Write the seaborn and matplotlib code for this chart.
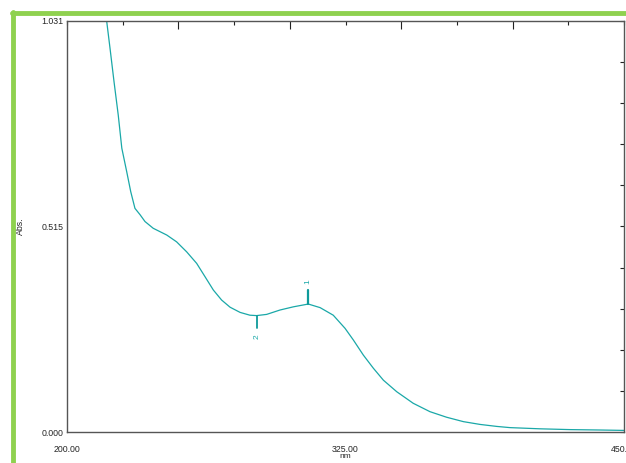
import matplotlib
matplotlib.use("Agg")
import matplotlib.pyplot as plt
from matplotlib.lines import Line2D
import seaborn as sns
import pandas as pd

# Spectrum data
wavelength_nm = [216.8, 217.8, 219.3, 221.1, 223.0, 224.6, 226.8, 228.6, 230.5, 232.8,
                 235.0, 238.7, 244.8, 249.2, 253.7, 258.2, 261.9, 265.7, 269.4, 273.2,
                 277.7, 282.1, 285.1, 289.6, 295.6, 301.6, 308.3, 313.6, 319.5, 324.8,
                 328.5, 333.0, 337.5, 342.0, 348.0, 355.4, 362.9, 370.4, 377.9, 385.4,
                 392.9, 398.8, 412.3, 425.8, 439.2, 450.0]
absorbance = [1.06, 1.031, 0.963, 0.879, 0.795, 0.712, 0.653, 0.603, 0.561, 0.545,
              0.528, 0.511, 0.494, 0.477, 0.452, 0.423, 0.390, 0.356, 0.331, 0.313,
              0.300, 0.293, 0.292, 0.295, 0.306, 0.314, 0.321, 0.312, 0.293, 0.260,
              0.231, 0.193, 0.160, 0.130, 0.101, 0.072, 0.051, 0.037, 0.026, 0.019,
              0.014, 0.011, 0.008, 0.006, 0.005, 0.004]

peak_labels = ["1", "2"]
peak_nm = [308.3, 285.1]
peak_abs = [0.321, 0.292]

x_ticks = [200, 225, 250, 275, 300, 325, 350, 375, 400, 425, 450]
x_labels = ["200.00", "", "", "", "", "325.00", "", "", "", "", "450.00"]
y_ticks = [i * 0.1031 for i in range(11)]
y_labels = ["0.000", "", "", "", "", "0.515", "", "", "", "", "1.031"]

sns.set_style("white")
plt.rcParams["font.family"] = ["Liberation Sans", "DejaVu Sans"]

fig = plt.figure(figsize=(6.26, 4.63), dpi=100)
ax = fig.add_axes([67 / 626, 1 - 432 / 463, 557 / 626, 411 / 463])

df = pd.DataFrame({"nm": wavelength_nm, "Abs.": absorbance})
teal = "#1aa8a8"
sns.lineplot(data=df, x="nm", y="Abs.", ax=ax, color=teal, linewidth=0.9, sort=False)

ax.set_xlim(200, 450)
ax.set_ylim(0, 1.031)

ax.set_xticks(x_ticks)
ax.set_xticklabels(x_labels, fontsize=6.3)
ax.set_yticks(y_ticks)
ax.set_yticklabels(y_labels, fontsize=6.3)
ax.tick_params(axis="both", direction="in", top=True, right=True, width=0.8,
               color="#222222", length=3)
ax.tick_params(axis="x", pad=9)
ax.tick_params(axis="y", pad=2.5)
for val, t in zip(x_ticks, ax.xaxis.get_major_ticks()):
    if val % 50 == 0 and val not in (200, 450):
        t.tick1line.set_markersize(6)
        t.tick2line.set_markersize(6)

for s in ax.spines.values():
    s.set_color("#555555")
    s.set_linewidth(1.0)

ax.set_xlabel("nm", fontsize=6, labelpad=0)
ax.set_ylabel("Abs.", fontsize=6.3, labelpad=12)

# peak markers
for lab, x, y in zip(peak_labels, peak_nm, peak_abs):
    if lab == "1":
        ax.plot([x, x], [y, y + 0.035], color="#0e9a9a", linewidth=1.6)
        ax.text(x, y + 0.055, lab, rotation=90, ha="center", va="center",
                fontsize=6, color=teal)
    else:
        ax.plot([x, x], [y, y - 0.031], color="#0e9a9a", linewidth=1.3)
        ax.text(x, y - 0.053, lab, rotation=90, ha="center", va="center",
                fontsize=6, color=teal)

# decorative green frame
fig.add_artist(Line2D([12 / 626, 1.0], [1 - 13 / 463, 1 - 13 / 463],
                      transform=fig.transFigure, color="#8fd14f", linewidth=3.5))
fig.add_artist(Line2D([13 / 626, 13 / 626], [0.0, 1 - 12 / 463],
                      transform=fig.transFigure, color="#8fd14f", linewidth=3.5))

fig.savefig("out.png", dpi=100)
